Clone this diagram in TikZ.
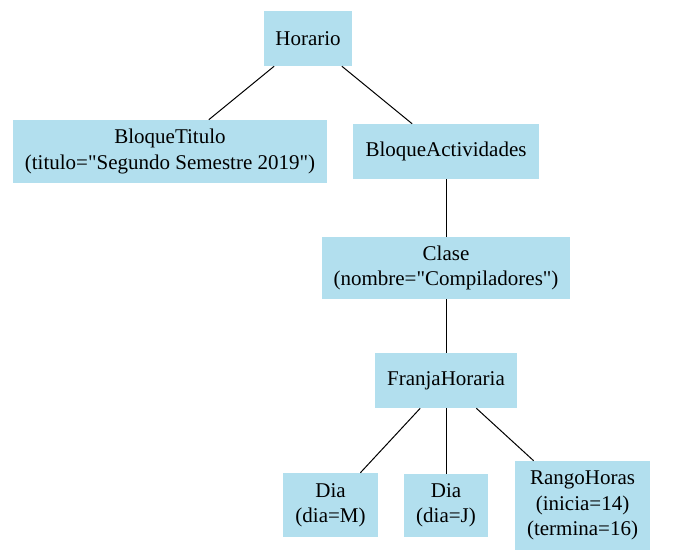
\documentclass[tikz,border=0pt]{standalone}
\usepackage{fontspec}
\setmainfont{Liberation Serif}
\usepackage{tikz}
\usetikzlibrary{positioning}
\definecolor{azulclaro}{HTML}{B2DFEE}

\begin{document}
\begin{tikzpicture}[x=0.75pt,y=-0.75pt,
  caja/.style={fill=azulclaro,align=center,inner sep=0pt,font=\fontsize{15.75}{19}\selectfont},
  arista/.style={line width=0.75pt}]
\useasboundingbox[fill=white] (0,0) rectangle (675,555);
\node[caja,minimum width=66pt,minimum height=41.25pt] (hor) at (308,38.5) {Horario};
\node[caja,minimum width=235.5pt,minimum height=47.25pt] (tit) at (170,151.5) {BloqueTitulo\\(titulo=\textquotedbl Segundo Semestre 2019\textquotedbl)};
\node[caja,minimum width=139.5pt,minimum height=41.25pt] (act) at (446,151.5) {BloqueActividades};
\node[caja,minimum width=186pt,minimum height=46.5pt] (cla) at (446,268) {Clase\\(nombre=\textquotedbl Compiladores\textquotedbl)};
\node[caja,minimum width=106.5pt,minimum height=41.25pt] (fra) at (446,380.5) {FranjaHoraria};
\node[caja,minimum width=71.25pt,minimum height=48pt] (dm) at (330.5,505) {Dia\\(dia=M)};
\node[caja,minimum width=63pt,minimum height=47.25pt] (dj) at (446,505.5) {Dia\\(dia=J)};
\node[caja,minimum width=101.25pt,minimum height=66.75pt] (ran) at (582.5,505.5) {RangoHoras\\(inicia=14)\\(termina=16)};
\draw[arista] (hor)--(tit); \draw[arista] (hor)--(act); \draw[arista] (act)--(cla); \draw[arista] (cla)--(fra);
\draw[arista] (fra)--(dm); \draw[arista] (fra)--(dj); \draw[arista] (fra)--(ran);
\end{tikzpicture}
\end{document}
